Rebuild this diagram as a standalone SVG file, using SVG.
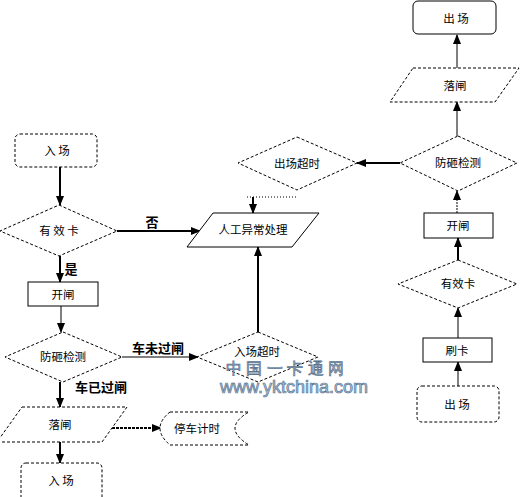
<svg xmlns="http://www.w3.org/2000/svg" width="523" height="497" viewBox="0 0 523 497">
<defs>
<marker id="ah" markerUnits="userSpaceOnUse" markerWidth="10" markerHeight="10" viewBox="0 0 10 10" refX="9" refY="5" orient="auto">
<path d="M0,1 L10,5 L0,9 Z" fill="#000"/>
</marker>
</defs>
<style>
.sh{fill:#fff;stroke:#000;stroke-width:1;stroke-dasharray:3 2}
.sd{fill:#fff;stroke:#000;stroke-width:1}
.t{font-family:"Noto Sans CJK SC","Liberation Sans",sans-serif;font-size:11.5px;fill:#000;text-anchor:middle;dominant-baseline:central}
.lb{font-family:"Noto Sans CJK SC","Liberation Sans",sans-serif;font-size:13px;font-weight:bold;fill:#000;text-anchor:middle;dominant-baseline:central}
.c{fill:none;stroke:#000;marker-end:url(#ah)}
.w1{stroke-width:1}
.w2{stroke-width:2}
.wm{font-family:"Liberation Sans",sans-serif;fill:#b4c8dc;stroke:#5a7490;stroke-width:0.7;text-anchor:middle}
</style>
<rect width="523" height="497" fill="#fff"/>
<g id="connectors">
<line class="c w2" x1="60" y1="167" x2="60" y2="205"/>
<line class="c w2" x1="117" y1="231" x2="200" y2="231"/>
<line class="c w2" x1="60" y1="256" x2="60" y2="282"/>
<line class="c w1" x1="61" y1="306" x2="61" y2="332"/>
<line class="c w1" x1="122" y1="357" x2="198" y2="357"/>
<line class="c w2" x1="60" y1="382" x2="60" y2="407"/>
<line class="c w2" x1="108" y1="428" x2="161" y2="428" stroke-dasharray="3 1"/>
<line class="c w2" x1="60" y1="442" x2="60" y2="463"/>
<line x1="247" y1="197" x2="297" y2="197" stroke="#000" stroke-width="1" stroke-dasharray="1 2"/>
<line class="c w2" x1="253" y1="197" x2="253" y2="213"/>
<line class="c w2" x1="258" y1="332" x2="258" y2="247"/>
<line class="c w1" x1="457" y1="68" x2="457" y2="35"/>
<line class="c w1" x1="457" y1="136" x2="457" y2="102"/>
<line class="c w2" x1="400" y1="163" x2="357" y2="163"/>
<line class="c w1" x1="457" y1="213" x2="457" y2="191" stroke-dasharray="2 1"/>
<line class="c w2" x1="458" y1="260" x2="458" y2="238"/>
<line class="c w1" x1="458" y1="338" x2="458" y2="308"/>
<line class="c w1" x1="458" y1="386" x2="458" y2="362"/>
</g>
<g id="lbl-no"><text class="lb" x="152" y="221">否</text></g>
<g id="lbl-yes"><text class="lb" x="71" y="268">是</text></g>
<g id="lbl-notpass"><text class="lb" x="158" y="347">车未过闸</text></g>
<g id="lbl-pass"><text class="lb" x="101" y="386">车已过闸</text></g>
<g id="n-enter1"><rect class="sh" x="15" y="134" width="82" height="33" rx="5"/><text class="t" x="57" y="150">入 场</text></g>
<g id="n-card1"><polygon class="sh" points="59,205 117,231 59,256 0,231"/><text class="t" x="59" y="230">有 效 卡</text></g>
<g id="n-open1"><rect class="sd" x="28" y="282" width="70" height="24"/><text class="t" x="63" y="294">开闸</text></g>
<g id="n-check1"><polygon class="sh" points="63,332 122,357 63,382 5,357"/><text class="t" x="63" y="356">防砸检测</text></g>
<g id="n-close1"><polygon class="sh" points="22,407 127,407 102,442 -3,442"/><text class="t" x="60" y="424">落闸</text></g>
<g id="n-timer"><path class="sh" d="M170,412 H249 Q221,428 249,445 H170 Q150,428 170,412 Z"/><text class="t" x="197" y="428">停车计时</text></g>
<g id="n-enter2"><rect class="sh" x="21" y="463" width="81" height="40" rx="5"/><text class="t" x="61" y="480">入 场</text></g>
<g id="n-manual"><polygon class="sd" points="213,213 319,213 292,247 187,247"/><text class="t" x="253" y="229">人工异常处理</text></g>
<g id="n-exit-timeout"><polygon class="sh" points="297,137 357,163 297,190 238,163"/><text class="t" x="297" y="163">出场超时</text></g>
<g id="n-enter-timeout"><polygon class="sh" points="258,332 318,357 258,382 197,357"/><text class="t" x="257" y="351">入场超时</text></g>
<g id="n-exit-top"><rect class="sd" x="413" y="1" width="83" height="33" rx="5"/><text class="t" x="456" y="18">出 场</text></g>
<g id="n-close2"><polygon class="sh" points="413,68 519,68 495,102 390,102"/><text class="t" x="455" y="85">落闸</text></g>
<g id="n-check2"><polygon class="sh" points="458,136 517,163 458,191 400,163"/><text class="t" x="458" y="162">防砸检测</text></g>
<g id="n-open2"><rect class="sd" x="424" y="213" width="69" height="25"/><text class="t" x="458" y="225">开闸</text></g>
<g id="n-card2"><polygon class="sh" points="458,260 517,284 458,308 398,284"/><text class="t" x="458" y="283">有效卡</text></g>
<g id="n-swipe"><rect class="sd" x="423" y="338" width="69" height="24"/><text class="t" x="457" y="350">刷卡</text></g>
<g id="n-exit-bottom"><rect class="sh" x="417" y="386" width="82" height="36" rx="5"/><text class="t" x="457" y="404">出 场</text></g>
<g id="watermark">
<text class="wm" x="285" y="374" font-size="16" font-family="Noto Sans CJK SC, sans-serif">中 国 一 卡 通 网</text>
<text class="wm" x="294" y="393" font-size="18">www.yktchina.com</text>
</g>
</svg>
